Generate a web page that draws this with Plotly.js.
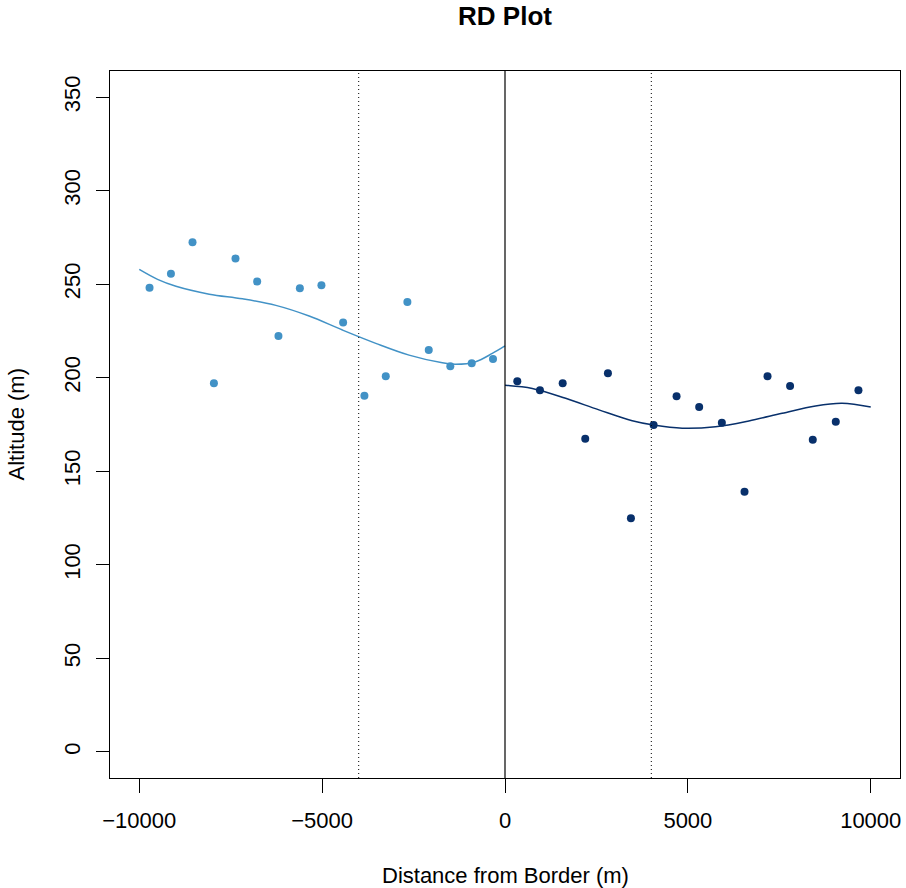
<!DOCTYPE html>
<html>
<head>
<meta charset="utf-8">
<script src="https://cdn.plot.ly/plotly-3.0.1.min.js"></script>
<style>html,body{margin:0;padding:0;background:#fff}#chart{width:906px;height:888px}</style>
</head>
<body>
<div id="chart"></div>
<script>
// Binned points, left of the border
var leftX = [-9719, -9134, -8544, -7959, -7369, -6776, -6194, -5609, -5019, -4426, -3844, -3260, -2669, -2085, -1495, -910, -328];
var leftY = [248.1, 255.6, 272.5, 197.0, 263.8, 251.5, 222.3, 247.8, 249.4, 229.6, 190.4, 200.8, 240.5, 214.8, 206.1, 207.7, 210.0];
// Binned points, right of the border
var rightX = [336, 956, 1577, 2194, 2814, 3443, 4063, 4691, 5309, 5929, 6549, 7178, 7795, 8415, 9044, 9664];
var rightY = [198.1, 193.3, 197.0, 167.4, 202.4, 124.9, 174.7, 190.1, 184.4, 176.0, 139.1, 200.8, 195.6, 166.9, 176.5, 193.3];
// Fitted curves
var leftFitX = [-10000, -9500, -8997, -8087, -7177, -6265, -5355, -4445, -3533, -2623, -1713, -1347, -801, -347, 0];
var leftFitY = [257.9, 252.6, 248.9, 244.7, 242.2, 238.7, 233.0, 225.5, 218.4, 212.1, 208.0, 207.2, 208.6, 213.0, 217.0];
var rightFitX = [0, 746, 1658, 2568, 3478, 4063, 4845, 5756, 6667, 7577, 8489, 9216, 10000];
var rightFitY = [196.0, 194.3, 189.0, 182.8, 177.0, 174.7, 173.0, 173.8, 176.9, 181.0, 184.9, 186.3, 184.3];
// Reference lines
var borderX = 0;
var bandX = [-4000, 4000];
// Axis ticks
var xTickVals = [-10000, -5000, 0, 5000, 10000];
var xTickText = ['\u221210000', '\u22125000', '0', '5000', '10000'];
var yTickVals = [0, 50, 100, 150, 200, 250, 300, 350];
var yTickText = ['0', '50', '100', '150', '200', '250', '300', '350'];

var leftCol = '#4292c6', rightCol = '#08306b';
var FONT = 'Liberation Sans, Arial, Helvetica, sans-serif';

var traces = [
  {x: leftX, y: leftY, type: 'scatter', mode: 'markers', marker: {color: leftCol, size: 8}},
  {x: rightX, y: rightY, type: 'scatter', mode: 'markers', marker: {color: rightCol, size: 8}},
  {x: leftFitX, y: leftFitY, type: 'scatter', mode: 'lines', line: {color: leftCol, width: 1.5, shape: 'spline', smoothing: 1}},
  {x: rightFitX, y: rightFitY, type: 'scatter', mode: 'lines', line: {color: rightCol, width: 1.5, shape: 'spline', smoothing: 1}}
];

var shapes = [{type: 'line', xref: 'x', yref: 'paper', x0: borderX, x1: borderX, y0: 0, y1: 1, line: {color: 'black', width: 1.2}}];
bandX.forEach(function (b) {
  shapes.push({type: 'line', xref: 'x', yref: 'paper', x0: b, x1: b, y0: 0, y1: 1, line: {color: 'black', width: 1, dash: '1px,3px'}});
});

var layout = {
  width: 906, height: 888,
  margin: {l: 110, r: 6, t: 71, b: 110, pad: 0},
  paper_bgcolor: 'white', plot_bgcolor: 'white',
  showlegend: false,
  font: {family: FONT, size: 22, color: 'black'},
  title: {text: '<b>RD Plot</b>', font: {family: FONT, size: 26, color: 'black'}, xref: 'paper', x: 0.5, xanchor: 'center', yref: 'container', y: 1 - 15.5 / 888, yanchor: 'middle'},
  xaxis: {
    range: [-10800, 10800], tickmode: 'array', tickvals: xTickVals, ticktext: xTickText,
    showgrid: false, zeroline: false, showline: true, mirror: true, linecolor: 'black', linewidth: 1,
    ticks: 'outside', ticklen: 14, tickwidth: 1, tickcolor: 'black',
    tickfont: {family: FONT, size: 22, color: 'black'}, ticklabelstandoff: 9
  },
  yaxis: {
    range: [-14, 364], tickmode: 'array', tickvals: yTickVals, ticktext: yTickText,
    showgrid: false, zeroline: false, showline: true, mirror: true, linecolor: 'black', linewidth: 1,
    ticks: 'outside', ticklen: 13, tickwidth: 1, tickcolor: 'black', tickangle: -90,
    tickfont: {family: FONT, size: 22, color: 'black'}, ticklabelstandoff: 7
  },
  shapes: shapes,
  annotations: [
    {text: 'Distance from Border (m)', xref: 'paper', yref: 'paper', x: 0.5, y: 0, xanchor: 'center', yanchor: 'middle', yshift: -97, showarrow: false, font: {family: FONT, size: 22, color: 'black'}},
    {text: 'Altitude (m)', xref: 'paper', yref: 'paper', x: 0, y: 0.5, xanchor: 'center', yanchor: 'middle', xshift: -94, textangle: -90, showarrow: false, font: {family: FONT, size: 22, color: 'black'}}
  ]
};

Plotly.newPlot('chart', traces, layout, {displayModeBar: false, staticPlot: true});
</script>
</body>
</html>
